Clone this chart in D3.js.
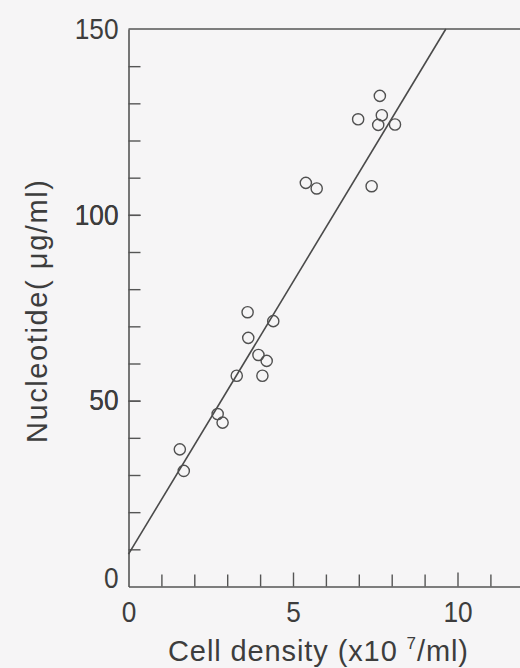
<!DOCTYPE html>
<html>
<head>
<meta charset="utf-8">
<script src="https://cdn.jsdelivr.net/npm/d3@7"></script>
<style>
  body { margin: 0; background: #f6f5f6; }
  svg { display: block; }
  text { font-family: "Liberation Sans", Arial, sans-serif; fill: #3d3d3d; }
</style>
</head>
<body>
<svg id="chart" width="520" height="668"></svg>
<script>
// cell density (x10^7/ml) vs nucleotide (ug/ml)
const cellDensity = [1.56, 1.68, 2.71, 2.86, 3.62, 4.40, 3.64, 3.95, 4.20, 3.29, 4.07,
                     5.39, 5.72, 7.64, 6.98, 7.70, 7.59, 8.10, 7.39];
const nucleotide  = [36.9, 31.1, 46.4, 44.1, 73.8, 71.4, 66.9, 62.3, 60.7, 56.7, 56.7,
                     108.6, 107.1, 132.0, 125.7, 126.8, 124.2, 124.3, 107.7];
// fitted line: nucleotide = intercept + slope * density
const fitIntercept = 8.7;
const fitSlope = 14.65;
const xTicks = d3.range(0, 13, 1);
const xLabels = [0, 5, 10];
const yTicks = d3.range(10, 150, 10);
const yLabels = [0, 50, 100, 150];

const svg = d3.select("#chart");
const x = d3.scaleLinear().domain([0, 12]).range([128.5, 523.3]);
const y = d3.scaleLinear().domain([0, 150]).range([586.5, 29]);
const ink = "#555";

// left axis, ticks point inward
const yAxis = svg.append("g")
    .attr("transform", "translate(" + x(0) + ",0)")
    .call(d3.axisLeft(y)
        .tickValues(yTicks.concat(yLabels))
        .tickSize(-12)
        .tickSizeOuter(0)
        .tickPadding(10)
        .tickFormat(d => yLabels.includes(d) ? d : ""));
yAxis.selectAll(".tick line").filter(d => d === 0 || d === 150).remove();
yAxis.selectAll(".tick text").filter(d => d === 0).attr("dy", "0.05em");

// bottom axis
const xAxis = svg.append("g")
    .attr("transform", "translate(0," + y(0) + ")")
    .call(d3.axisBottom(x)
        .tickValues(xTicks)
        .tickSize(-12)
        .tickSizeOuter(0)
        .tickPadding(15)
        .tickFormat(d => xLabels.includes(d) ? d : ""));
xAxis.selectAll(".tick line").filter(d => d === 0).remove();
xAxis.selectAll(".tick line").filter(d => d % 5 === 0).attr("y2", -14);

svg.selectAll(".domain").style("stroke", ink).style("stroke-width", 1.6);
svg.selectAll(".tick line").style("stroke", ink).style("stroke-width", 1.4);
// narrow, tall digits like the original
svg.selectAll(".tick text")
    .filter(function() { return this.textContent !== ""; })
    .attr("textLength", function() { return this.textContent.length * 14.6; })
    .attr("lengthAdjust", "spacingAndGlyphs")
    .style("font-size", "29px")
    .style("font-family", "'Liberation Sans', Arial, sans-serif")
    .style("fill", "#3d3d3d");

// top frame line
svg.append("line")
    .attr("x1", x(0)).attr("x2", x(12))
    .attr("y1", y(150)).attr("y2", y(150))
    .style("stroke", ink)
    .style("stroke-width", 1.6);

// regression line, clipped at top of frame
const xEnd = (150 - fitIntercept) / fitSlope;
svg.append("line")
    .attr("x1", x(0)).attr("y1", y(fitIntercept))
    .attr("x2", x(xEnd)).attr("y2", y(150))
    .style("stroke", "#4a4a4a")
    .style("stroke-width", 1.6);

// data points
svg.append("g").selectAll("circle")
    .data(cellDensity)
    .join("circle")
    .attr("cx", d => x(d))
    .attr("cy", (d, i) => y(nucleotide[i]))
    .attr("r", 5.6)
    .style("fill", "none")
    .style("stroke", "#505050")
    .style("stroke-width", 1.4);

// axis titles
const xTitle = svg.append("text")
    .attr("x", 168)
    .attr("y", 661)
    .attr("textLength", 300)
    .attr("lengthAdjust", "spacing")
    .style("font-size", "29px");
xTitle.append("tspan").text("Cell density (x10 ");
xTitle.append("tspan").attr("dy", -12).style("font-size", "17px").text("7");
xTitle.append("tspan").attr("dy", 12).text("/ml)");

svg.append("text")
    .attr("transform", "translate(47," + 443 + ") rotate(-90)")
    .attr("textLength", 263)
    .attr("lengthAdjust", "spacing")
    .style("font-size", "29px")
    .text("Nucleotide( \u03bcg/ml)");
</script>
</body>
</html>
